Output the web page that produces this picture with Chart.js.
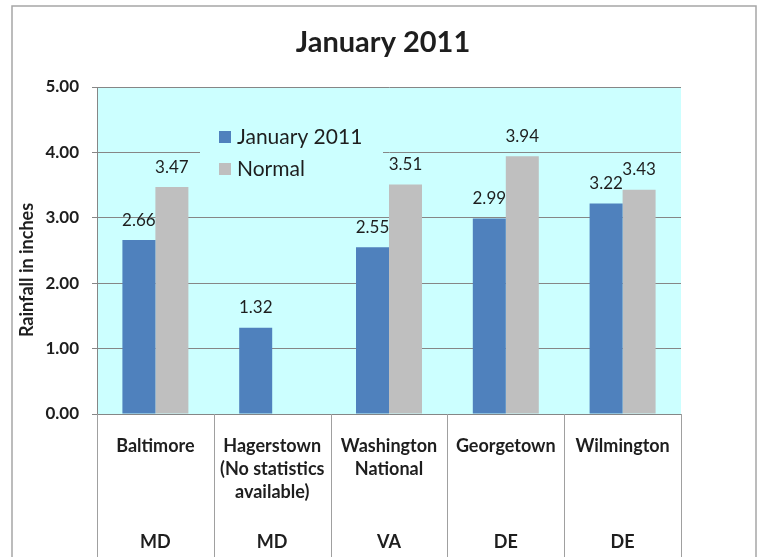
<!DOCTYPE html>
<html>
<head>
<meta charset="utf-8">
<script src="https://cdn.jsdelivr.net/npm/chart.js@4.4.0/dist/chart.umd.min.js"></script>
<style>
  html, body { margin: 0; padding: 0; background: #fff; }
  #wrap { width: 761px; height: 557px; position: relative; }
</style>
</head>
<body>
<div id="wrap"><canvas id="rainChart"></canvas></div>
<script>
// data
const cities = [['Baltimore'], ['Hagerstown', '(No statistics', 'available)'], ['Washington', 'National'], ['Georgetown'], ['Wilmington']];
const states = ['MD', 'MD', 'VA', 'DE', 'DE'];
const jan2011 = [2.66, 1.32, 2.55, 2.99, 3.22];
const normal = [3.47, null, 3.51, 3.94, 3.43];
const yMax = 5;
const yStep = 1;

const FONT = 'Lato, "Open Sans", sans-serif';
const GRID = '#868686';
const TEXT = '#1e1e1e';

// background, plot fill, outer frame and title
const framePlugin = {
    id: 'frame',
    beforeDraw(chart) {
        const { ctx, chartArea: a, width, height } = chart;
        ctx.save();
        ctx.fillStyle = '#fff';
        ctx.fillRect(0, 0, width, height);
        ctx.fillStyle = '#ccffff';
        ctx.fillRect(a.left, a.top, a.right - a.left, a.bottom - a.top);
        ctx.strokeStyle = '#a6a6a6';
        ctx.lineWidth = 1.5;
        ctx.strokeRect(12, 6, 744, height + 10);
        ctx.fillStyle = TEXT;
        ctx.font = 'bold 29px ' + FONT;
        ctx.textAlign = 'center';
        ctx.textBaseline = 'middle';
        ctx.fillText('January 2011', 383, 43);
        // y axis title
        ctx.translate(27, 270);
        ctx.rotate(-Math.PI / 2);
        ctx.font = 'bold 18px ' + FONT;
        ctx.fillText('Rainfall in inches', 0, 0);
        ctx.restore();
    }
};

// value labels above bars
const valueLabels = {
    id: 'valueLabels',
    afterDatasetsDraw(chart) {
        const { ctx } = chart;
        ctx.save();
        ctx.fillStyle = TEXT;
        ctx.font = '17px ' + FONT;
        ctx.textAlign = 'center';
        ctx.textBaseline = 'middle';
        chart.data.datasets.forEach((ds, di) => {
            chart.getDatasetMeta(di).data.forEach((bar, i) => {
                if (ds.data[i] == null) return;
                ctx.fillText(ds.data[i].toFixed(2), bar.x, bar.y - 20);
            });
        });
        ctx.restore();
    }
};

// legend inside the plot, over the grid
const insideLegend = {
    id: 'insideLegend',
    afterDraw(chart) {
        const { ctx, chartArea: a } = chart;
        const x0 = a.left + 103, y0 = a.top + 28;
        ctx.save();
        ctx.fillStyle = '#ccffff';
        ctx.fillRect(x0, y0, 183, 76);
        ctx.font = '21px ' + FONT;
        ctx.textBaseline = 'middle';
        chart.data.datasets.forEach((ds, i) => {
            const cy = y0 + 22 + i * 32;
            ctx.fillStyle = ds.backgroundColor;
            ctx.fillRect(x0 + 19, cy - 6, 12, 12);
            ctx.fillStyle = TEXT;
            ctx.fillText(ds.label, x0 + 37, cy);
        });
        ctx.restore();
    }
};

// two level category axis with divider lines
const categoryTable = {
    id: 'categoryTable',
    afterDraw(chart) {
        const { ctx, chartArea: a, height } = chart;
        const x = chart.scales.x;
        const half = (x.getPixelForValue(1) - x.getPixelForValue(0)) / 2;
        ctx.save();
        ctx.strokeStyle = '#a0a0a0';
        ctx.lineWidth = 1;
        ctx.fillStyle = TEXT;
        ctx.font = 'bold 18px ' + FONT;
        ctx.textAlign = 'center';
        ctx.textBaseline = 'middle';
        cities.forEach((lines, i) => {
            const cx = x.getPixelForValue(i);
            [cx - half, cx + half].forEach(lx => {
                ctx.beginPath();
                ctx.moveTo(Math.round(lx) + 0.5, a.bottom);
                ctx.lineTo(Math.round(lx) + 0.5, height);
                ctx.stroke();
            });
            lines.forEach((t, j) => ctx.fillText(t, cx, a.bottom + 32 + j * 23));
            ctx.fillText(states[i], cx, a.bottom + 128);
        });
        ctx.restore();
    }
};

new Chart(document.getElementById('rainChart'), {
    type: 'bar',
    data: {
        labels: cities.map(c => c.join(' ')),
        datasets: [
            { label: 'January 2011', data: jan2011, backgroundColor: '#4f81bd' },
            { label: 'Normal', data: normal, backgroundColor: '#bfbfbf' }
        ]
    },
    options: {
        responsive: true,
        maintainAspectRatio: false,
        animation: false,
        devicePixelRatio: 1,
        layout: { padding: { top: 87, right: 80, left: 0, bottom: 0 } },
        datasets: { bar: { categoryPercentage: 0.565, barPercentage: 1 } },
        plugins: { legend: { display: false }, title: { display: false }, tooltip: { enabled: false } },
        scales: {
            x: {
                grid: { display: false },
                border: { display: true, color: GRID },
                ticks: { display: false },
                afterFit(s) { s.height = 143; }
            },
            y: {
                min: 0,
                max: yMax,
                ticks: {
                    stepSize: yStep,
                    padding: 13,
                    color: TEXT,
                    font: { family: FONT, size: 17, weight: 'bold' },
                    callback: v => v.toFixed(2)
                },
                grid: { color: GRID, tickLength: 5 },
                border: { color: GRID },
                afterFit(s) { s.width = 97; }
            }
        }
    },
    plugins: [framePlugin, valueLabels, insideLegend, categoryTable]
});
</script>
</body>
</html>
